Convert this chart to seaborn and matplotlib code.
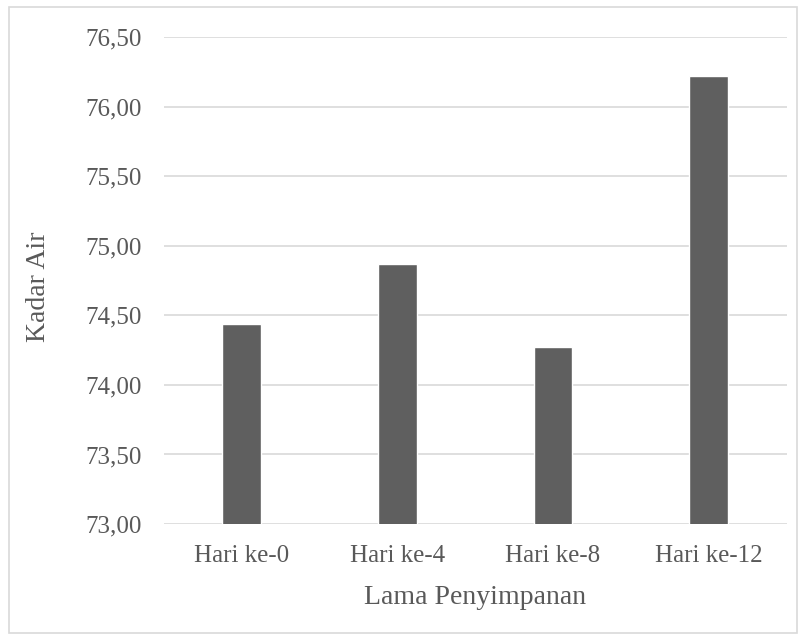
import matplotlib
matplotlib.use("Agg")
import matplotlib.pyplot as plt
from matplotlib.patches import Rectangle
from matplotlib.ticker import FuncFormatter, MultipleLocator
import seaborn as sns

categories = ["Hari ke-0", "Hari ke-4", "Hari ke-8", "Hari ke-12"]
kadar_air = [74.44, 74.87, 74.27, 76.22]
y_min, y_max, y_step = 73.0, 76.5, 0.5

sns.set_theme(style="white")
plt.rcParams["font.family"] = ["Liberation Serif", "DejaVu Serif"]

text_color = "#595959"
grid_color = "#d9d9d9"
bar_color = "#5f5f5f"

fig = plt.figure(figsize=(8.06, 6.41), dpi=100)
ax = fig.add_axes([0.2029, 0.1825, 0.7731, 0.7595])

sns.barplot(x=categories, y=kadar_air, color=bar_color, width=0.25,
            saturation=1, ax=ax, zorder=3)

ax.set_ylim(y_min, y_max)
ax.yaxis.set_major_locator(MultipleLocator(y_step))
ax.yaxis.set_major_formatter(FuncFormatter(lambda v, _: f"{v:.2f}".replace(".", ",")))
ax.grid(axis="y", color=grid_color, linewidth=1.2, zorder=0)
ax.grid(axis="x", visible=False)
for s in ax.spines.values():
    s.set_visible(False)

ax.tick_params(axis="both", length=0, labelsize=18, colors=text_color)
ax.tick_params(axis="x", pad=15)
ax.tick_params(axis="y", pad=16)

ax.set_xlabel("Lama Penyimpanan", fontsize=20, color=text_color)
ax.set_ylabel("Kadar Air", fontsize=20, color=text_color)
ax.xaxis.set_label_coords(0.5, -0.126)
ax.yaxis.set_label_coords(-0.180, 0.488)

fig.patches.append(Rectangle((9 / 806, 1 - 633 / 641), 788 / 806, 626 / 641,
                             transform=fig.transFigure, fill=False,
                             edgecolor=grid_color, linewidth=1.2))

fig.savefig("out.png", dpi=100, facecolor="white")
